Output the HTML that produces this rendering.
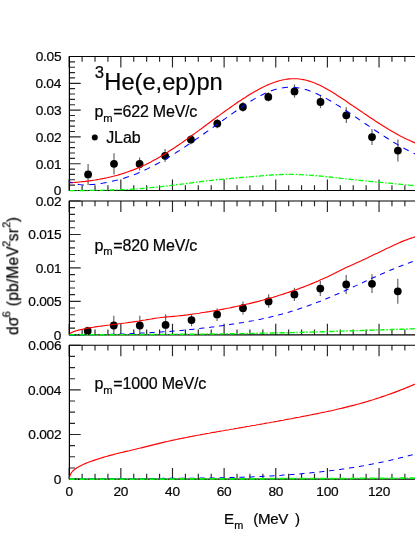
<!DOCTYPE html>
<html><head><meta charset="utf-8"><title>plot</title>
<style>html,body{margin:0;padding:0;background:#fff}body{width:415px;height:537px;overflow:hidden;font-family:"Liberation Sans",sans-serif}</style></head>
<body>
<svg width="415" height="537" viewBox="0 0 415 537" style="display:block">
<rect width="415" height="537" fill="#fff"/>
<defs><clipPath id="cp"><rect x="69.2" y="0" width="347" height="537"/></clipPath></defs>
<path d="M69.2,190.50h11.5 M69.2,185.14h5.8 M69.2,179.78h5.8 M69.2,174.42h5.8 M69.2,169.06h5.8 M69.2,163.70h11.5 M69.2,158.34h5.8 M69.2,152.98h5.8 M69.2,147.62h5.8 M69.2,142.26h5.8 M69.2,136.90h11.5 M69.2,131.54h5.8 M69.2,126.18h5.8 M69.2,120.82h5.8 M69.2,115.46h5.8 M69.2,110.10h11.5 M69.2,104.74h5.8 M69.2,99.38h5.8 M69.2,94.02h5.8 M69.2,88.66h5.8 M69.2,83.30h11.5 M69.2,77.94h5.8 M69.2,72.58h5.8 M69.2,67.22h5.8 M69.2,61.86h5.8 M69.2,56.50h11.5 M69.20,190.5v-11 M69.20,56.5v11 M82.11,190.5v-5.3 M82.11,56.5v5.3 M95.02,190.5v-5.3 M95.02,56.5v5.3 M107.93,190.5v-5.3 M107.93,56.5v5.3 M120.84,190.5v-11 M120.84,56.5v11 M133.75,190.5v-5.3 M133.75,56.5v5.3 M146.66,190.5v-5.3 M146.66,56.5v5.3 M159.57,190.5v-5.3 M159.57,56.5v5.3 M172.48,190.5v-11 M172.48,56.5v11 M185.39,190.5v-5.3 M185.39,56.5v5.3 M198.30,190.5v-5.3 M198.30,56.5v5.3 M211.21,190.5v-5.3 M211.21,56.5v5.3 M224.12,190.5v-11 M224.12,56.5v11 M237.03,190.5v-5.3 M237.03,56.5v5.3 M249.94,190.5v-5.3 M249.94,56.5v5.3 M262.85,190.5v-5.3 M262.85,56.5v5.3 M275.76,190.5v-11 M275.76,56.5v11 M288.67,190.5v-5.3 M288.67,56.5v5.3 M301.58,190.5v-5.3 M301.58,56.5v5.3 M314.49,190.5v-5.3 M314.49,56.5v5.3 M327.40,190.5v-11 M327.40,56.5v11 M340.31,190.5v-5.3 M340.31,56.5v5.3 M353.22,190.5v-5.3 M353.22,56.5v5.3 M366.13,190.5v-5.3 M366.13,56.5v5.3 M379.04,190.5v-11 M379.04,56.5v11 M391.95,190.5v-5.3 M391.95,56.5v5.3 M404.86,190.5v-5.3 M404.86,56.5v5.3" stroke="#000" stroke-width="1.15" stroke-opacity="0.85" fill="none"/>
<path d="M69.2,334.80h11.5 M69.2,328.11h5.8 M69.2,321.42h5.8 M69.2,314.73h5.8 M69.2,308.04h5.8 M69.2,301.35h11.5 M69.2,294.66h5.8 M69.2,287.97h5.8 M69.2,281.28h5.8 M69.2,274.59h5.8 M69.2,267.90h11.5 M69.2,261.21h5.8 M69.2,254.52h5.8 M69.2,247.83h5.8 M69.2,241.14h5.8 M69.2,234.45h11.5 M69.2,227.76h5.8 M69.2,221.07h5.8 M69.2,214.38h5.8 M69.2,207.69h5.8 M69.2,201.00h11.5 M69.20,334.8v-11 M69.20,201.0v11 M82.11,334.8v-5.3 M82.11,201.0v5.3 M95.02,334.8v-5.3 M95.02,201.0v5.3 M107.93,334.8v-5.3 M107.93,201.0v5.3 M120.84,334.8v-11 M120.84,201.0v11 M133.75,334.8v-5.3 M133.75,201.0v5.3 M146.66,334.8v-5.3 M146.66,201.0v5.3 M159.57,334.8v-5.3 M159.57,201.0v5.3 M172.48,334.8v-11 M172.48,201.0v11 M185.39,334.8v-5.3 M185.39,201.0v5.3 M198.30,334.8v-5.3 M198.30,201.0v5.3 M211.21,334.8v-5.3 M211.21,201.0v5.3 M224.12,334.8v-11 M224.12,201.0v11 M237.03,334.8v-5.3 M237.03,201.0v5.3 M249.94,334.8v-5.3 M249.94,201.0v5.3 M262.85,334.8v-5.3 M262.85,201.0v5.3 M275.76,334.8v-11 M275.76,201.0v11 M288.67,334.8v-5.3 M288.67,201.0v5.3 M301.58,334.8v-5.3 M301.58,201.0v5.3 M314.49,334.8v-5.3 M314.49,201.0v5.3 M327.40,334.8v-11 M327.40,201.0v11 M340.31,334.8v-5.3 M340.31,201.0v5.3 M353.22,334.8v-5.3 M353.22,201.0v5.3 M366.13,334.8v-5.3 M366.13,201.0v5.3 M379.04,334.8v-11 M379.04,201.0v11 M391.95,334.8v-5.3 M391.95,201.0v5.3 M404.86,334.8v-5.3 M404.86,201.0v5.3" stroke="#000" stroke-width="1.15" stroke-opacity="0.85" fill="none"/>
<path d="M69.2,479.10h11.5 M69.2,467.95h5.8 M69.2,456.79h5.8 M69.2,445.64h5.8 M69.2,434.48h11.5 M69.2,423.33h5.8 M69.2,412.18h5.8 M69.2,401.02h5.8 M69.2,389.87h11.5 M69.2,378.71h5.8 M69.2,367.56h5.8 M69.2,356.40h5.8 M69.2,345.25h11.5 M69.20,479.1v-11 M69.20,345.25v11 M82.11,479.1v-5.3 M82.11,345.25v5.3 M95.02,479.1v-5.3 M95.02,345.25v5.3 M107.93,479.1v-5.3 M107.93,345.25v5.3 M120.84,479.1v-11 M120.84,345.25v11 M133.75,479.1v-5.3 M133.75,345.25v5.3 M146.66,479.1v-5.3 M146.66,345.25v5.3 M159.57,479.1v-5.3 M159.57,345.25v5.3 M172.48,479.1v-11 M172.48,345.25v11 M185.39,479.1v-5.3 M185.39,345.25v5.3 M198.30,479.1v-5.3 M198.30,345.25v5.3 M211.21,479.1v-5.3 M211.21,345.25v5.3 M224.12,479.1v-11 M224.12,345.25v11 M237.03,479.1v-5.3 M237.03,345.25v5.3 M249.94,479.1v-5.3 M249.94,345.25v5.3 M262.85,479.1v-5.3 M262.85,345.25v5.3 M275.76,479.1v-11 M275.76,345.25v11 M288.67,479.1v-5.3 M288.67,345.25v5.3 M301.58,479.1v-5.3 M301.58,345.25v5.3 M314.49,479.1v-5.3 M314.49,345.25v5.3 M327.40,479.1v-11 M327.40,345.25v11 M340.31,479.1v-5.3 M340.31,345.25v5.3 M353.22,479.1v-5.3 M353.22,345.25v5.3 M366.13,479.1v-5.3 M366.13,345.25v5.3 M379.04,479.1v-11 M379.04,345.25v11 M391.95,479.1v-5.3 M391.95,345.25v5.3 M404.86,479.1v-5.3 M404.86,345.25v5.3" stroke="#000" stroke-width="1.15" stroke-opacity="0.85" fill="none"/>
<path d="M417,56.5H69.4V190.5H417" stroke="#000" stroke-width="1.2" fill="none"/>
<path d="M417,201.0H69.4V334.8H417" stroke="#000" stroke-width="1.2" fill="none"/>
<path d="M417,345.25H69.4V479.1H417" stroke="#000" stroke-width="1.2" fill="none"/>
<path d="M88.1,164.0V185.0 M114.0,153.2V174.6 M139.6,157.6V170.6 M165.1,149.0V162.0 M190.9,134.9V144.3 M217.3,118.9V128.3 M242.9,102.3V111.7 M268.3,92.2V101.6 M294.5,84.6V97.7 M320.5,95.2V108.2 M346.3,107.2V123.0 M372.0,129.1V144.9 M397.9,139.6V161.4" stroke="#000" stroke-width="1.2" stroke-opacity="0.6" fill="none"/>
<circle cx="88.1" cy="174.4" r="3.9" fill="#000"/>
<circle cx="114.0" cy="163.8" r="3.9" fill="#000"/>
<circle cx="139.6" cy="164.0" r="3.9" fill="#000"/>
<circle cx="165.1" cy="155.8" r="3.9" fill="#000"/>
<circle cx="190.9" cy="139.6" r="3.9" fill="#000"/>
<circle cx="217.3" cy="123.6" r="3.9" fill="#000"/>
<circle cx="242.9" cy="107.0" r="3.9" fill="#000"/>
<circle cx="268.3" cy="96.9" r="3.9" fill="#000"/>
<circle cx="294.5" cy="91.4" r="3.9" fill="#000"/>
<circle cx="320.5" cy="102.0" r="3.9" fill="#000"/>
<circle cx="346.3" cy="115.3" r="3.9" fill="#000"/>
<circle cx="372.0" cy="137.1" r="3.9" fill="#000"/>
<circle cx="397.9" cy="150.6" r="3.9" fill="#000"/>
<path d="M87.7,326.8V334.5 M113.8,315.8V334.5 M139.8,315.8V334.5 M165.6,314.3V334.5 M191.5,314.3V326.2 M217.1,308.5V321.0 M243.0,301.6V314.5 M268.6,294.3V307.8 M294.4,287.7V301.1 M320.3,280.9V295.9 M346.2,275.1V294.0 M372.0,274.3V292.9 M397.8,278.7V303.8" stroke="#000" stroke-width="1.2" stroke-opacity="0.6" fill="none"/>
<circle cx="87.7" cy="331.0" r="3.9" fill="#000"/>
<circle cx="113.8" cy="325.5" r="3.9" fill="#000"/>
<circle cx="139.8" cy="325.5" r="3.9" fill="#000"/>
<circle cx="165.6" cy="324.9" r="3.9" fill="#000"/>
<circle cx="191.5" cy="320.1" r="3.9" fill="#000"/>
<circle cx="217.1" cy="314.4" r="3.9" fill="#000"/>
<circle cx="243.0" cy="308.2" r="3.9" fill="#000"/>
<circle cx="268.6" cy="301.4" r="3.9" fill="#000"/>
<circle cx="294.4" cy="294.4" r="3.9" fill="#000"/>
<circle cx="320.3" cy="288.6" r="3.9" fill="#000"/>
<circle cx="346.2" cy="284.5" r="3.9" fill="#000"/>
<circle cx="372.0" cy="283.8" r="3.9" fill="#000"/>
<circle cx="397.8" cy="291.3" r="3.9" fill="#000"/>
<path d="M69.3,182.8 L71.3,182.6 L73.3,182.5 L75.3,182.4 L77.3,182.2 L79.3,182.0 L81.3,181.8 L83.3,181.6 L85.3,181.4 L87.3,181.1 L89.3,180.9 L91.3,180.6 L93.3,180.3 L95.3,180.0 L97.3,179.6 L99.3,179.3 L101.3,178.9 L103.3,178.5 L105.3,178.1 L107.3,177.7 L109.3,177.2 L111.3,176.7 L113.3,176.2 L115.3,175.7 L117.3,175.2 L119.3,174.6 L121.3,174.0 L123.3,173.4 L125.3,172.7 L127.3,172.0 L129.3,171.3 L131.3,170.6 L133.3,169.9 L135.3,169.1 L137.3,168.3 L139.3,167.4 L141.3,166.5 L143.3,165.6 L145.3,164.7 L147.3,163.7 L149.3,162.7 L151.3,161.7 L153.3,160.6 L155.3,159.5 L157.3,158.4 L159.3,157.3 L161.3,156.1 L163.3,154.9 L165.3,153.7 L167.3,152.4 L169.3,151.1 L171.3,149.8 L173.3,148.5 L175.3,147.2 L177.3,145.8 L179.3,144.5 L181.3,143.1 L183.3,141.7 L185.3,140.3 L187.3,138.9 L189.3,137.4 L191.3,136.0 L193.3,134.5 L195.3,133.1 L197.3,131.6 L199.3,130.1 L201.3,128.7 L203.3,127.2 L205.3,125.7 L207.3,124.2 L209.3,122.7 L211.3,121.3 L213.3,119.8 L215.3,118.3 L217.3,116.8 L219.3,115.4 L221.3,113.9 L223.3,112.5 L225.3,111.0 L227.3,109.6 L229.3,108.2 L231.3,106.8 L233.3,105.4 L235.3,104.0 L237.3,102.6 L239.3,101.3 L241.3,100.0 L243.3,98.6 L245.3,97.4 L247.3,96.1 L249.3,94.8 L251.3,93.6 L253.3,92.4 L255.3,91.3 L257.3,90.2 L259.3,89.1 L261.3,88.0 L263.3,87.0 L265.3,86.1 L267.3,85.1 L269.3,84.3 L271.3,83.5 L273.3,82.7 L275.3,82.0 L277.3,81.4 L279.3,80.8 L281.3,80.3 L283.3,79.8 L285.3,79.5 L287.3,79.1 L289.3,78.9 L291.3,78.8 L293.3,78.7 L295.3,78.7 L297.3,78.8 L299.3,79.0 L301.3,79.2 L303.3,79.6 L305.3,80.0 L307.3,80.5 L309.3,81.1 L311.3,81.8 L313.3,82.5 L315.3,83.3 L317.3,84.2 L319.3,85.1 L321.3,86.1 L323.3,87.1 L325.3,88.2 L327.3,89.3 L329.3,90.4 L331.3,91.6 L333.3,92.8 L335.3,94.1 L337.3,95.4 L339.3,96.7 L341.3,98.0 L343.3,99.3 L345.3,100.6 L347.3,102.0 L349.3,103.4 L351.3,104.7 L353.3,106.1 L355.3,107.4 L357.3,108.8 L359.3,110.2 L361.3,111.5 L363.3,112.9 L365.3,114.3 L367.3,115.6 L369.3,117.0 L371.3,118.3 L373.3,119.6 L375.3,120.9 L377.3,122.2 L379.3,123.5 L381.3,124.8 L383.3,126.1 L385.3,127.3 L387.3,128.5 L389.3,129.7 L391.3,130.9 L393.3,132.1 L395.3,133.2 L397.3,134.3 L399.3,135.4 L401.3,136.4 L403.3,137.4 L405.3,138.4 L407.3,139.4 L409.3,140.3 L411.3,141.2 L413.3,142.1 L415.3,142.9" stroke="#f00" stroke-width="1.15" fill="none" clip-path="url(#cp)"/>
<path d="M69.3,181.7 L71.3,182.5 L73.3,183.3 L75.3,183.8 L77.3,184.3 L79.3,184.6 L81.3,184.8 L83.3,184.9 L85.3,184.9 L87.3,184.9 L89.3,184.8 L91.3,184.6 L93.3,184.4 L95.3,184.2 L97.3,183.9 L99.3,183.7 L101.3,183.4 L103.3,183.1 L105.3,182.7 L107.3,182.3 L109.3,181.9 L111.3,181.5 L113.3,181.0 L115.3,180.6 L117.3,180.1 L119.3,179.5 L121.3,179.0 L123.3,178.4 L125.3,177.7 L127.3,177.1 L129.3,176.4 L131.3,175.7 L133.3,174.9 L135.3,174.2 L137.3,173.4 L139.3,172.5 L141.3,171.6 L143.3,170.8 L145.3,169.8 L147.3,168.9 L149.3,167.9 L151.3,166.9 L153.3,165.9 L155.3,164.8 L157.3,163.7 L159.3,162.6 L161.3,161.5 L163.3,160.4 L165.3,159.2 L167.3,158.0 L169.3,156.8 L171.3,155.6 L173.3,154.4 L175.3,153.1 L177.3,151.8 L179.3,150.6 L181.3,149.3 L183.3,147.9 L185.3,146.6 L187.3,145.3 L189.3,143.9 L191.3,142.6 L193.3,141.2 L195.3,139.8 L197.3,138.4 L199.3,137.1 L201.3,135.7 L203.3,134.2 L205.3,132.8 L207.3,131.4 L209.3,130.0 L211.3,128.6 L213.3,127.1 L215.3,125.7 L217.3,124.3 L219.3,122.9 L221.3,121.4 L223.3,120.0 L225.3,118.6 L227.3,117.1 L229.3,115.7 L231.3,114.3 L233.3,112.9 L235.3,111.5 L237.3,110.1 L239.3,108.7 L241.3,107.3 L243.3,106.0 L245.3,104.6 L247.3,103.3 L249.3,102.1 L251.3,100.8 L253.3,99.6 L255.3,98.4 L257.3,97.3 L259.3,96.2 L261.3,95.2 L263.3,94.2 L265.3,93.2 L267.3,92.4 L269.3,91.5 L271.3,90.8 L273.3,90.1 L275.3,89.4 L277.3,88.9 L279.3,88.4 L281.3,88.0 L283.3,87.7 L285.3,87.4 L287.3,87.3 L289.3,87.2 L291.3,87.2 L293.3,87.3 L295.3,87.5 L297.3,87.8 L299.3,88.1 L301.3,88.5 L303.3,89.0 L305.3,89.5 L307.3,90.1 L309.3,90.8 L311.3,91.5 L313.3,92.3 L315.3,93.1 L317.3,94.0 L319.3,95.0 L321.3,95.9 L323.3,97.0 L325.3,98.0 L327.3,99.1 L329.3,100.2 L331.3,101.4 L333.3,102.6 L335.3,103.8 L337.3,105.1 L339.3,106.3 L341.3,107.6 L343.3,108.9 L345.3,110.2 L347.3,111.5 L349.3,112.8 L351.3,114.2 L353.3,115.5 L355.3,116.9 L357.3,118.2 L359.3,119.6 L361.3,121.0 L363.3,122.3 L365.3,123.7 L367.3,125.0 L369.3,126.4 L371.3,127.8 L373.3,129.1 L375.3,130.5 L377.3,131.8 L379.3,133.1 L381.3,134.4 L383.3,135.7 L385.3,137.0 L387.3,138.3 L389.3,139.6 L391.3,140.8 L393.3,142.1 L395.3,143.3 L397.3,144.4 L399.3,145.6 L401.3,146.8 L403.3,147.9 L405.3,149.0 L407.3,150.0 L409.3,151.1 L411.3,152.1 L413.3,153.0 L415.3,154.0" stroke="#00f" stroke-width="1.05" fill="none" stroke-dasharray="6.1 5.4" stroke-dashoffset="2.6" clip-path="url(#cp)"/>
<path d="M69.5,190.6 L71.5,190.6 L73.5,190.6 L75.5,190.6 L77.5,190.6 L79.5,190.6 L81.5,190.5 L83.5,190.5 L85.5,190.5 L87.5,190.5 L89.5,190.4 L91.5,190.4 L93.5,190.4 L95.5,190.4 L97.5,190.3 L99.5,190.3 L101.5,190.3 L103.5,190.2 L105.5,190.2 L107.5,190.1 L109.5,190.1 L111.5,190.0 L113.5,190.0 L115.5,189.9 L117.5,189.9 L119.5,189.8 L121.5,189.7 L123.5,189.6 L125.5,189.5 L127.5,189.4 L129.5,189.3 L131.5,189.2 L133.5,189.1 L135.5,188.9 L137.5,188.8 L139.5,188.6 L141.5,188.5 L143.5,188.3 L145.5,188.1 L147.5,187.9 L149.5,187.8 L151.5,187.6 L153.5,187.4 L155.5,187.2 L157.5,187.0 L159.5,186.8 L161.5,186.6 L163.5,186.3 L165.5,186.1 L167.5,185.8 L169.5,185.6 L171.5,185.3 L173.5,185.1 L175.5,184.8 L177.5,184.6 L179.5,184.3 L181.5,184.1 L183.5,183.9 L185.5,183.6 L187.5,183.3 L189.5,183.1 L191.5,182.8 L193.5,182.5 L195.5,182.3 L197.5,182.0 L199.5,181.8 L201.5,181.5 L203.5,181.3 L205.5,181.0 L207.5,180.8 L209.5,180.6 L211.5,180.3 L213.5,180.1 L215.5,179.9 L217.5,179.7 L219.5,179.5 L221.5,179.3 L223.5,179.1 L225.5,179.0 L227.5,178.8 L229.5,178.6 L231.5,178.4 L233.5,178.2 L235.5,178.0 L237.5,177.9 L239.5,177.7 L241.5,177.5 L243.5,177.4 L245.5,177.2 L247.5,177.0 L249.5,176.8 L251.5,176.7 L253.5,176.5 L255.5,176.3 L257.5,176.1 L259.5,176.0 L261.5,175.8 L263.5,175.6 L265.5,175.4 L267.5,175.3 L269.5,175.1 L271.5,175.0 L273.5,174.9 L275.5,174.8 L277.5,174.7 L279.5,174.6 L281.5,174.5 L283.5,174.4 L285.5,174.3 L287.5,174.3 L289.5,174.3 L291.5,174.3 L293.5,174.4 L295.5,174.4 L297.5,174.5 L299.5,174.6 L301.5,174.7 L303.5,174.8 L305.5,174.9 L307.5,175.0 L309.5,175.2 L311.5,175.3 L313.5,175.5 L315.5,175.6 L317.5,175.8 L319.5,176.0 L321.5,176.2 L323.5,176.4 L325.5,176.6 L327.5,176.8 L329.5,177.0 L331.5,177.2 L333.5,177.5 L335.5,177.7 L337.5,177.9 L339.5,178.1 L341.5,178.4 L343.5,178.6 L345.5,178.8 L347.5,179.0 L349.5,179.2 L351.5,179.5 L353.5,179.7 L355.5,179.9 L357.5,180.1 L359.5,180.3 L361.5,180.5 L363.5,180.7 L365.5,180.9 L367.5,181.1 L369.5,181.3 L371.5,181.5 L373.5,181.7 L375.5,181.9 L377.5,182.1 L379.5,182.3 L381.5,182.4 L383.5,182.6 L385.5,182.8 L387.5,183.0 L389.5,183.2 L391.5,183.4 L393.5,183.6 L395.5,183.8 L397.5,184.0 L399.5,184.2 L401.5,184.4 L403.5,184.6 L405.5,184.8 L407.5,185.0 L409.5,185.2 L411.5,185.3 L413.5,185.5 L415.5,185.7" stroke="#0f0" stroke-width="1.3" fill="none" stroke-dasharray="5.2 1.7 1.4 1.7" stroke-dashoffset="0" clip-path="url(#cp)"/>
<path d="M69.2,334.5 L69.5,334.1 L69.8,333.7 L70.1,333.5 L70.4,333.2 L70.7,333.0 L71.0,332.8 L71.3,332.7 L71.6,332.5 L71.9,332.4 L72.2,332.2 L72.5,332.1 L72.8,332.0 L73.1,331.8 L73.4,331.7 L73.7,331.6 L74.0,331.5 L74.3,331.4 L74.6,331.3 L74.9,331.2 L75.2,331.1 L75.5,331.0 L75.8,330.9 L76.1,330.8 L76.4,330.7 L76.7,330.6 L77.0,330.5 L77.3,330.5 L77.6,330.4 L77.9,330.3 L78.2,330.2 L78.5,330.1 L78.8,330.1 L79.1,330.0 L79.4,329.9 L79.7,329.8 L80.0,329.8 L80.3,329.7 L80.6,329.6 L80.9,329.6 L81.2,329.5 L83.2,329.1 L85.2,328.7 L87.2,328.3 L89.2,327.9 L91.2,327.6 L93.2,327.3 L95.2,326.9 L97.2,326.6 L99.2,326.3 L101.2,326.1 L103.2,325.8 L105.2,325.5 L107.2,325.2 L109.2,325.0 L111.2,324.7 L113.2,324.5 L115.2,324.2 L117.2,324.0 L119.2,323.7 L121.2,323.5 L123.2,323.2 L125.2,323.0 L127.2,322.7 L129.2,322.4 L131.2,322.2 L133.2,321.9 L135.2,321.6 L137.2,321.3 L139.2,321.0 L141.2,320.6 L143.2,320.3 L145.2,320.0 L147.2,319.6 L149.2,319.3 L151.2,319.0 L153.2,318.6 L155.2,318.3 L157.2,318.0 L159.2,317.8 L161.2,317.5 L163.2,317.3 L165.2,317.1 L167.2,316.9 L169.2,316.8 L171.2,316.6 L173.2,316.4 L175.2,316.2 L177.2,316.0 L179.2,315.8 L181.2,315.6 L183.2,315.4 L185.2,315.1 L187.2,314.9 L189.2,314.6 L191.2,314.3 L193.2,314.0 L195.2,313.7 L197.2,313.5 L199.2,313.2 L201.2,312.8 L203.2,312.5 L205.2,312.2 L207.2,311.9 L209.2,311.6 L211.2,311.2 L213.2,310.9 L215.2,310.6 L217.2,310.2 L219.2,309.9 L221.2,309.5 L223.2,309.1 L225.2,308.7 L227.2,308.3 L229.2,308.0 L231.2,307.6 L233.2,307.1 L235.2,306.7 L237.2,306.3 L239.2,305.9 L241.2,305.4 L243.2,305.0 L245.2,304.5 L247.2,304.0 L249.2,303.6 L251.2,303.1 L253.2,302.6 L255.2,302.1 L257.2,301.6 L259.2,301.1 L261.2,300.5 L263.2,300.0 L265.2,299.4 L267.2,298.9 L269.2,298.3 L271.2,297.7 L273.2,297.2 L275.2,296.6 L277.2,296.0 L279.2,295.3 L281.2,294.7 L283.2,294.1 L285.2,293.4 L287.2,292.8 L289.2,292.1 L291.2,291.4 L293.2,290.7 L295.2,290.0 L297.2,289.3 L299.2,288.6 L301.2,287.8 L303.2,287.1 L305.2,286.3 L307.2,285.5 L309.2,284.7 L311.2,283.9 L313.2,283.1 L315.2,282.2 L317.2,281.4 L319.2,280.5 L321.2,279.6 L323.2,278.7 L325.2,277.8 L327.2,276.9 L329.2,275.9 L331.2,275.0 L333.2,274.0 L335.2,273.0 L337.2,272.0 L339.2,271.0 L341.2,270.0 L343.2,269.1 L345.2,268.1 L347.2,267.1 L349.2,266.2 L351.2,265.3 L353.2,264.4 L355.2,263.5 L357.2,262.6 L359.2,261.7 L361.2,260.8 L363.2,259.8 L365.2,258.9 L367.2,258.0 L369.2,257.0 L371.2,256.1 L373.2,255.1 L375.2,254.1 L377.2,253.2 L379.2,252.2 L381.2,251.2 L383.2,250.3 L385.2,249.3 L387.2,248.3 L389.2,247.4 L391.2,246.4 L393.2,245.5 L395.2,244.6 L397.2,243.7 L399.2,242.8 L401.2,241.9 L403.2,241.1 L405.2,240.3 L407.2,239.6 L409.2,238.8 L411.2,238.1 L413.2,237.5 L415.2,236.8" stroke="#f00" stroke-width="1.15" fill="none" clip-path="url(#cp)"/>
<path d="M69.5,335.0 L71.5,335.0 L73.5,335.0 L75.5,335.0 L77.5,335.0 L79.5,334.9 L81.5,334.9 L83.5,334.9 L85.5,334.9 L87.5,334.8 L89.5,334.8 L91.5,334.8 L93.5,334.7 L95.5,334.7 L97.5,334.7 L99.5,334.6 L101.5,334.6 L103.5,334.5 L105.5,334.5 L107.5,334.4 L109.5,334.4 L111.5,334.3 L113.5,334.3 L115.5,334.2 L117.5,334.1 L119.5,334.1 L121.5,334.0 L123.5,333.9 L125.5,333.9 L127.5,333.8 L129.5,333.7 L131.5,333.6 L133.5,333.5 L135.5,333.4 L137.5,333.3 L139.5,333.2 L141.5,333.1 L143.5,333.0 L145.5,332.9 L147.5,332.8 L149.5,332.7 L151.5,332.6 L153.5,332.5 L155.5,332.3 L157.5,332.2 L159.5,332.1 L161.5,331.9 L163.5,331.8 L165.5,331.7 L167.5,331.5 L169.5,331.4 L171.5,331.2 L173.5,331.0 L175.5,330.9 L177.5,330.7 L179.5,330.5 L181.5,330.4 L183.5,330.2 L185.5,330.0 L187.5,329.8 L189.5,329.6 L191.5,329.4 L193.5,329.2 L195.5,329.0 L197.5,328.8 L199.5,328.6 L201.5,328.3 L203.5,328.1 L205.5,327.9 L207.5,327.6 L209.5,327.4 L211.5,327.1 L213.5,326.9 L215.5,326.6 L217.5,326.3 L219.5,326.1 L221.5,325.8 L223.5,325.5 L225.5,325.2 L227.5,324.9 L229.5,324.6 L231.5,324.3 L233.5,324.0 L235.5,323.7 L237.5,323.4 L239.5,323.0 L241.5,322.7 L243.5,322.4 L245.5,322.0 L247.5,321.7 L249.5,321.3 L251.5,320.9 L253.5,320.6 L255.5,320.2 L257.5,319.8 L259.5,319.4 L261.5,319.0 L263.5,318.5 L265.5,318.1 L267.5,317.7 L269.5,317.2 L271.5,316.7 L273.5,316.2 L275.5,315.7 L277.5,315.2 L279.5,314.7 L281.5,314.2 L283.5,313.6 L285.5,313.1 L287.5,312.5 L289.5,311.9 L291.5,311.3 L293.5,310.7 L295.5,310.0 L297.5,309.4 L299.5,308.7 L301.5,308.1 L303.5,307.4 L305.5,306.7 L307.5,306.0 L309.5,305.2 L311.5,304.5 L313.5,303.8 L315.5,303.0 L317.5,302.2 L319.5,301.5 L321.5,300.7 L323.5,299.9 L325.5,299.1 L327.5,298.2 L329.5,297.4 L331.5,296.5 L333.5,295.7 L335.5,294.8 L337.5,294.0 L339.5,293.1 L341.5,292.2 L343.5,291.3 L345.5,290.4 L347.5,289.5 L349.5,288.6 L351.5,287.7 L353.5,286.8 L355.5,285.9 L357.5,284.9 L359.5,284.0 L361.5,283.1 L363.5,282.2 L365.5,281.3 L367.5,280.4 L369.5,279.4 L371.5,278.5 L373.5,277.6 L375.5,276.7 L377.5,275.8 L379.5,274.9 L381.5,274.1 L383.5,273.2 L385.5,272.3 L387.5,271.4 L389.5,270.6 L391.5,269.7 L393.5,268.9 L395.5,268.1 L397.5,267.3 L399.5,266.5 L401.5,265.7 L403.5,264.9 L405.5,264.1 L407.5,263.4 L409.5,262.7 L411.5,261.9 L413.5,261.2 L415.5,260.6" stroke="#00f" stroke-width="1.05" fill="none" stroke-dasharray="5.2 4.8" stroke-dashoffset="0" clip-path="url(#cp)"/>
<path d="M69.5,334.8 L71.5,334.8 L73.5,334.8 L75.5,334.8 L77.5,334.8 L79.5,334.8 L81.5,334.8 L83.5,334.8 L85.5,334.8 L87.5,334.8 L89.5,334.8 L91.5,334.7 L93.5,334.7 L95.5,334.7 L97.5,334.7 L99.5,334.7 L101.5,334.7 L103.5,334.7 L105.5,334.7 L107.5,334.7 L109.5,334.7 L111.5,334.7 L113.5,334.7 L115.5,334.7 L117.5,334.6 L119.5,334.6 L121.5,334.6 L123.5,334.6 L125.5,334.6 L127.5,334.6 L129.5,334.6 L131.5,334.6 L133.5,334.6 L135.5,334.6 L137.5,334.6 L139.5,334.5 L141.5,334.5 L143.5,334.5 L145.5,334.5 L147.5,334.5 L149.5,334.5 L151.5,334.5 L153.5,334.5 L155.5,334.5 L157.5,334.4 L159.5,334.4 L161.5,334.4 L163.5,334.4 L165.5,334.4 L167.5,334.4 L169.5,334.4 L171.5,334.4 L173.5,334.3 L175.5,334.3 L177.5,334.3 L179.5,334.3 L181.5,334.3 L183.5,334.3 L185.5,334.3 L187.5,334.2 L189.5,334.2 L191.5,334.2 L193.5,334.2 L195.5,334.2 L197.5,334.1 L199.5,334.1 L201.5,334.1 L203.5,334.1 L205.5,334.1 L207.5,334.0 L209.5,334.0 L211.5,334.0 L213.5,334.0 L215.5,334.0 L217.5,333.9 L219.5,333.9 L221.5,333.9 L223.5,333.9 L225.5,333.8 L227.5,333.8 L229.5,333.8 L231.5,333.8 L233.5,333.7 L235.5,333.7 L237.5,333.7 L239.5,333.6 L241.5,333.6 L243.5,333.6 L245.5,333.5 L247.5,333.5 L249.5,333.5 L251.5,333.4 L253.5,333.4 L255.5,333.4 L257.5,333.3 L259.5,333.3 L261.5,333.2 L263.5,333.2 L265.5,333.2 L267.5,333.1 L269.5,333.1 L271.5,333.0 L273.5,333.0 L275.5,333.0 L277.5,332.9 L279.5,332.9 L281.5,332.8 L283.5,332.8 L285.5,332.7 L287.5,332.7 L289.5,332.7 L291.5,332.6 L293.5,332.6 L295.5,332.5 L297.5,332.5 L299.5,332.4 L301.5,332.4 L303.5,332.3 L305.5,332.3 L307.5,332.2 L309.5,332.2 L311.5,332.1 L313.5,332.0 L315.5,332.0 L317.5,331.9 L319.5,331.9 L321.5,331.8 L323.5,331.7 L325.5,331.7 L327.5,331.6 L329.5,331.5 L331.5,331.5 L333.5,331.4 L335.5,331.3 L337.5,331.3 L339.5,331.2 L341.5,331.1 L343.5,331.1 L345.5,331.0 L347.5,330.9 L349.5,330.9 L351.5,330.8 L353.5,330.8 L355.5,330.7 L357.5,330.6 L359.5,330.6 L361.5,330.5 L363.5,330.4 L365.5,330.4 L367.5,330.3 L369.5,330.2 L371.5,330.2 L373.5,330.1 L375.5,330.1 L377.5,330.0 L379.5,329.9 L381.5,329.9 L383.5,329.8 L385.5,329.7 L387.5,329.7 L389.5,329.6 L391.5,329.5 L393.5,329.5 L395.5,329.4 L397.5,329.3 L399.5,329.3 L401.5,329.2 L403.5,329.1 L405.5,329.1 L407.5,329.0 L409.5,328.9 L411.5,328.9 L413.5,328.8 L415.5,328.7" stroke="#0f0" stroke-width="1.4" fill="none" stroke-dasharray="5.2 1.7 1.4 1.7" stroke-dashoffset="0" clip-path="url(#cp)"/>
<path d="M69.2,479.0 L69.5,477.2 L69.8,476.1 L70.1,475.2 L70.4,474.5 L70.7,473.9 L71.0,473.3 L71.3,472.9 L71.6,472.4 L71.9,472.1 L72.2,471.7 L72.5,471.4 L72.8,471.0 L73.1,470.8 L73.4,470.5 L73.7,470.2 L74.0,469.9 L74.3,469.7 L74.6,469.5 L74.9,469.2 L75.2,469.0 L75.5,468.8 L75.8,468.6 L76.1,468.4 L76.4,468.2 L76.7,468.0 L77.0,467.8 L77.3,467.6 L77.6,467.4 L77.9,467.2 L78.2,467.1 L78.5,466.9 L78.8,466.7 L79.1,466.5 L79.4,466.4 L79.7,466.2 L80.0,466.1 L80.3,465.9 L80.6,465.8 L80.9,465.6 L81.2,465.5 L83.2,464.5 L85.2,463.6 L87.2,462.8 L89.2,462.0 L91.2,461.3 L93.2,460.6 L95.2,459.9 L97.2,459.2 L99.2,458.6 L101.2,458.0 L103.2,457.4 L105.2,456.8 L107.2,456.2 L109.2,455.6 L111.2,455.1 L113.2,454.6 L115.2,454.0 L117.2,453.5 L119.2,453.0 L121.2,452.5 L123.2,452.1 L125.2,451.6 L127.2,451.1 L129.2,450.7 L131.2,450.2 L133.2,449.7 L135.2,449.3 L137.2,448.8 L139.2,448.3 L141.2,447.9 L143.2,447.4 L145.2,446.9 L147.2,446.4 L149.2,445.9 L151.2,445.4 L153.2,444.9 L155.2,444.4 L157.2,443.9 L159.2,443.4 L161.2,442.9 L163.2,442.4 L165.2,441.9 L167.2,441.5 L169.2,441.0 L171.2,440.6 L173.2,440.1 L175.2,439.7 L177.2,439.3 L179.2,438.9 L181.2,438.5 L183.2,438.1 L185.2,437.7 L187.2,437.3 L189.2,436.9 L191.2,436.5 L193.2,436.1 L195.2,435.7 L197.2,435.3 L199.2,435.0 L201.2,434.6 L203.2,434.2 L205.2,433.9 L207.2,433.5 L209.2,433.2 L211.2,432.8 L213.2,432.4 L215.2,432.1 L217.2,431.7 L219.2,431.4 L221.2,431.0 L223.2,430.7 L225.2,430.3 L227.2,430.0 L229.2,429.7 L231.2,429.3 L233.2,429.0 L235.2,428.6 L237.2,428.3 L239.2,427.9 L241.2,427.6 L243.2,427.2 L245.2,426.9 L247.2,426.5 L249.2,426.2 L251.2,425.8 L253.2,425.5 L255.2,425.2 L257.2,424.8 L259.2,424.5 L261.2,424.1 L263.2,423.8 L265.2,423.4 L267.2,423.0 L269.2,422.7 L271.2,422.3 L273.2,422.0 L275.2,421.6 L277.2,421.3 L279.2,420.9 L281.2,420.5 L283.2,420.2 L285.2,419.8 L287.2,419.4 L289.2,419.0 L291.2,418.7 L293.2,418.3 L295.2,417.9 L297.2,417.5 L299.2,417.2 L301.2,416.8 L303.2,416.4 L305.2,416.0 L307.2,415.6 L309.2,415.2 L311.2,414.8 L313.2,414.4 L315.2,414.0 L317.2,413.6 L319.2,413.2 L321.2,412.8 L323.2,412.4 L325.2,412.0 L327.2,411.5 L329.2,411.1 L331.2,410.7 L333.2,410.2 L335.2,409.8 L337.2,409.3 L339.2,408.8 L341.2,408.4 L343.2,407.9 L345.2,407.4 L347.2,406.9 L349.2,406.4 L351.2,405.9 L353.2,405.4 L355.2,404.9 L357.2,404.3 L359.2,403.8 L361.2,403.2 L363.2,402.6 L365.2,402.1 L367.2,401.5 L369.2,400.9 L371.2,400.3 L373.2,399.7 L375.2,399.0 L377.2,398.4 L379.2,397.8 L381.2,397.1 L383.2,396.4 L385.2,395.7 L387.2,395.0 L389.2,394.3 L391.2,393.6 L393.2,392.9 L395.2,392.1 L397.2,391.4 L399.2,390.6 L401.2,389.8 L403.2,389.1 L405.2,388.2 L407.2,387.4 L409.2,386.6 L411.2,385.7 L413.2,384.9 L415.2,384.0" stroke="#f00" stroke-width="1.15" fill="none" clip-path="url(#cp)"/>
<path d="M69.5,479.3 L71.5,479.2 L73.5,479.2 L75.5,479.1 L77.5,479.1 L79.5,479.0 L81.5,479.0 L83.5,478.9 L85.5,478.9 L87.5,478.9 L89.5,478.8 L91.5,478.8 L93.5,478.8 L95.5,478.7 L97.5,478.7 L99.5,478.7 L101.5,478.7 L103.5,478.6 L105.5,478.6 L107.5,478.6 L109.5,478.6 L111.5,478.6 L113.5,478.5 L115.5,478.5 L117.5,478.5 L119.5,478.5 L121.5,478.5 L123.5,478.5 L125.5,478.5 L127.5,478.5 L129.5,478.4 L131.5,478.4 L133.5,478.4 L135.5,478.4 L137.5,478.4 L139.5,478.4 L141.5,478.4 L143.5,478.4 L145.5,478.4 L147.5,478.4 L149.5,478.4 L151.5,478.4 L153.5,478.4 L155.5,478.4 L157.5,478.4 L159.5,478.4 L161.5,478.4 L163.5,478.3 L165.5,478.3 L167.5,478.3 L169.5,478.3 L171.5,478.3 L173.5,478.3 L175.5,478.3 L177.5,478.3 L179.5,478.3 L181.5,478.3 L183.5,478.3 L185.5,478.2 L187.5,478.2 L189.5,478.2 L191.5,478.2 L193.5,478.2 L195.5,478.2 L197.5,478.1 L199.5,478.1 L201.5,478.1 L203.5,478.1 L205.5,478.0 L207.5,478.0 L209.5,478.0 L211.5,478.0 L213.5,477.9 L215.5,477.9 L217.5,477.9 L219.5,477.8 L221.5,477.8 L223.5,477.7 L225.5,477.7 L227.5,477.6 L229.5,477.6 L231.5,477.5 L233.5,477.5 L235.5,477.4 L237.5,477.4 L239.5,477.3 L241.5,477.2 L243.5,477.2 L245.5,477.1 L247.5,477.0 L249.5,476.9 L251.5,476.9 L253.5,476.8 L255.5,476.7 L257.5,476.6 L259.5,476.5 L261.5,476.4 L263.5,476.3 L265.5,476.2 L267.5,476.1 L269.5,476.0 L271.5,475.9 L273.5,475.8 L275.5,475.7 L277.5,475.5 L279.5,475.4 L281.5,475.3 L283.5,475.1 L285.5,475.0 L287.5,474.9 L289.5,474.7 L291.5,474.5 L293.5,474.4 L295.5,474.2 L297.5,474.1 L299.5,473.9 L301.5,473.7 L303.5,473.5 L305.5,473.4 L307.5,473.2 L309.5,473.0 L311.5,472.8 L313.5,472.6 L315.5,472.4 L317.5,472.2 L319.5,471.9 L321.5,471.7 L323.5,471.5 L325.5,471.3 L327.5,471.0 L329.5,470.8 L331.5,470.5 L333.5,470.3 L335.5,470.0 L337.5,469.7 L339.5,469.5 L341.5,469.2 L343.5,468.9 L345.5,468.6 L347.5,468.3 L349.5,468.0 L351.5,467.7 L353.5,467.4 L355.5,467.1 L357.5,466.7 L359.5,466.4 L361.5,466.0 L363.5,465.7 L365.5,465.3 L367.5,465.0 L369.5,464.6 L371.5,464.2 L373.5,463.8 L375.5,463.4 L377.5,463.0 L379.5,462.6 L381.5,462.2 L383.5,461.8 L385.5,461.3 L387.5,460.9 L389.5,460.5 L391.5,460.0 L393.5,459.5 L395.5,459.1 L397.5,458.6 L399.5,458.1 L401.5,457.6 L403.5,457.1 L405.5,456.6 L407.5,456.0 L409.5,455.5 L411.5,455.0 L413.5,454.4 L415.5,453.9" stroke="#00f" stroke-width="1.05" fill="none" stroke-dasharray="5.2 4.8" stroke-dashoffset="0" clip-path="url(#cp)"/>
<path d="M69.5,479.1 L71.5,479.1 L73.5,479.1 L75.5,479.1 L77.5,479.1 L79.5,479.1 L81.5,479.1 L83.5,479.1 L85.5,479.1 L87.5,479.1 L89.5,479.1 L91.5,479.1 L93.5,479.1 L95.5,479.1 L97.5,479.1 L99.5,479.1 L101.5,479.1 L103.5,479.1 L105.5,479.1 L107.5,479.1 L109.5,479.1 L111.5,479.1 L113.5,479.1 L115.5,479.1 L117.5,479.1 L119.5,479.0 L121.5,479.0 L123.5,479.0 L125.5,479.0 L127.5,479.0 L129.5,479.0 L131.5,479.0 L133.5,479.0 L135.5,479.0 L137.5,479.0 L139.5,479.0 L141.5,479.0 L143.5,479.0 L145.5,479.0 L147.5,479.0 L149.5,479.0 L151.5,479.0 L153.5,479.0 L155.5,479.0 L157.5,479.0 L159.5,479.0 L161.5,479.0 L163.5,479.0 L165.5,479.0 L167.5,479.0 L169.5,479.0 L171.5,479.0 L173.5,479.0 L175.5,479.0 L177.5,478.9 L179.5,478.9 L181.5,478.9 L183.5,478.9 L185.5,478.9 L187.5,478.9 L189.5,478.9 L191.5,478.9 L193.5,478.9 L195.5,478.9 L197.5,478.9 L199.5,478.9 L201.5,478.9 L203.5,478.9 L205.5,478.9 L207.5,478.9 L209.5,478.9 L211.5,478.9 L213.5,478.9 L215.5,478.9 L217.5,478.9 L219.5,478.9 L221.5,478.9 L223.5,478.9 L225.5,478.8 L227.5,478.8 L229.5,478.8 L231.5,478.8 L233.5,478.8 L235.5,478.8 L237.5,478.8 L239.5,478.8 L241.5,478.8 L243.5,478.8 L245.5,478.8 L247.5,478.8 L249.5,478.8 L251.5,478.8 L253.5,478.8 L255.5,478.8 L257.5,478.8 L259.5,478.8 L261.5,478.8 L263.5,478.8 L265.5,478.8 L267.5,478.7 L269.5,478.7 L271.5,478.7 L273.5,478.7 L275.5,478.7 L277.5,478.7 L279.5,478.7 L281.5,478.7 L283.5,478.7 L285.5,478.7 L287.5,478.7 L289.5,478.7 L291.5,478.7 L293.5,478.7 L295.5,478.7 L297.5,478.7 L299.5,478.6 L301.5,478.6 L303.5,478.6 L305.5,478.6 L307.5,478.6 L309.5,478.6 L311.5,478.6 L313.5,478.6 L315.5,478.6 L317.5,478.6 L319.5,478.6 L321.5,478.6 L323.5,478.6 L325.5,478.6 L327.5,478.5 L329.5,478.5 L331.5,478.5 L333.5,478.5 L335.5,478.5 L337.5,478.5 L339.5,478.5 L341.5,478.5 L343.5,478.5 L345.5,478.5 L347.5,478.5 L349.5,478.5 L351.5,478.5 L353.5,478.4 L355.5,478.4 L357.5,478.4 L359.5,478.4 L361.5,478.4 L363.5,478.4 L365.5,478.4 L367.5,478.4 L369.5,478.4 L371.5,478.4 L373.5,478.4 L375.5,478.4 L377.5,478.3 L379.5,478.3 L381.5,478.3 L383.5,478.3 L385.5,478.3 L387.5,478.3 L389.5,478.3 L391.5,478.3 L393.5,478.3 L395.5,478.3 L397.5,478.3 L399.5,478.2 L401.5,478.2 L403.5,478.2 L405.5,478.2 L407.5,478.2 L409.5,478.2 L411.5,478.2 L413.5,478.2 L415.5,478.2" stroke="#0f0" stroke-width="1.75" fill="none" stroke-dasharray="5.2 1.7 1.4 1.7" stroke-dashoffset="0" clip-path="url(#cp)"/>
<g font-family="Liberation Sans, sans-serif" fill="#000" stroke="#000" stroke-width="0.22" style="opacity:0.99">
<text x="53.72" y="195.35" font-size="13.7">0</text>
<text x="35.64" y="168.55" font-size="13.7" textLength="25.92" lengthAdjust="spacing">0.01</text>
<text x="35.64" y="141.75" font-size="13.7" textLength="25.92" lengthAdjust="spacing">0.02</text>
<text x="35.64" y="114.95" font-size="13.7" textLength="25.92" lengthAdjust="spacing">0.03</text>
<text x="35.43" y="88.15" font-size="13.7" textLength="25.92" lengthAdjust="spacing">0.04</text>
<text x="35.64" y="61.35" font-size="13.7" textLength="25.92" lengthAdjust="spacing">0.05</text>
<text x="53.72" y="339.65" font-size="13.7">0</text>
<text x="28.27" y="306.2" font-size="13.7" textLength="33.29" lengthAdjust="spacing">0.005</text>
<text x="35.64" y="272.75" font-size="13.7" textLength="25.92" lengthAdjust="spacing">0.01</text>
<text x="28.27" y="239.3" font-size="13.7" textLength="33.29" lengthAdjust="spacing">0.015</text>
<text x="35.64" y="205.85" font-size="13.7" textLength="25.92" lengthAdjust="spacing">0.02</text>
<text x="53.72" y="483.95" font-size="13.7">0</text>
<text x="28.27" y="439.33" font-size="13.7" textLength="33.29" lengthAdjust="spacing">0.002</text>
<text x="28.06" y="394.72" font-size="13.7" textLength="33.29" lengthAdjust="spacing">0.004</text>
<text x="28.27" y="350.1" font-size="13.7" textLength="33.29" lengthAdjust="spacing">0.006</text>
<text x="69.2" y="496.0" font-size="13.7" text-anchor="middle" letter-spacing="-0.2">0</text>
<text x="120.8" y="496.0" font-size="13.7" text-anchor="middle" letter-spacing="-0.2">20</text>
<text x="172.5" y="496.0" font-size="13.7" text-anchor="middle" letter-spacing="-0.2">40</text>
<text x="224.1" y="496.0" font-size="13.7" text-anchor="middle" letter-spacing="-0.2">60</text>
<text x="275.8" y="496.0" font-size="13.7" text-anchor="middle" letter-spacing="-0.2">80</text>
<text x="327.4" y="496.0" font-size="13.7" text-anchor="middle" letter-spacing="-0.2">100</text>
<text x="379.0" y="496.0" font-size="13.7" text-anchor="middle" letter-spacing="-0.2">120</text>
<text x="94.78" y="78.4" font-size="16.7">3</text>
<text x="104.35" y="89.6" font-size="23.7" textLength="118.38" lengthAdjust="spacing">He(e,ep)pn</text>
<text x="94.50" y="117.1" font-size="16">p</text>
<text x="103.30" y="121.8" font-size="11.2">m</text>
<text x="113.35" y="117.1" font-size="16" textLength="84.00" lengthAdjust="spacing">=622 MeV/c</text>
<text x="94.50" y="250.7" font-size="16">p</text>
<text x="103.30" y="255.39999999999998" font-size="11.2">m</text>
<text x="113.35" y="250.7" font-size="16" textLength="84.00" lengthAdjust="spacing">=820 MeV/c</text>
<text x="94.50" y="389.3" font-size="16">p</text>
<text x="103.30" y="394.0" font-size="11.2">m</text>
<text x="113.35" y="389.3" font-size="16" textLength="93.00" lengthAdjust="spacing">=1000 MeV/c</text>
<circle cx="94.8" cy="137.4" r="2.9"/>
<text x="106.25" y="142.6" font-size="16" textLength="34.30" lengthAdjust="spacing">JLab</text>
<text x="224.12" y="524.1" font-size="15.1">E</text>
<text x="234.22" y="528.8" font-size="10.9">m</text>
<text x="253.29" y="524.1" font-size="15.1" textLength="35.13" lengthAdjust="spacing">(MeV</text>
<text x="294.90" y="524.1" font-size="15.1">)</text>
<g transform="translate(18.3,335.3) rotate(-90)">
<text x="0.21" y="0" font-size="15.6">dσ</text>
<text x="17.99" y="-8.4" font-size="10.9">6</text>
<text x="29.07" y="0" font-size="15.6" textLength="59.96" lengthAdjust="spacing">(pb/MeV</text>
<text x="88.59" y="-8.4" font-size="10.9">2</text>
<text x="93.96" y="0" font-size="15.6" textLength="13.22" lengthAdjust="spacing">sr</text>
<text x="107.39" y="-8.4" font-size="10.9">2</text>
<text x="112.90" y="0" font-size="15.6">)</text>
</g>
</g>
</svg>
</body></html>
